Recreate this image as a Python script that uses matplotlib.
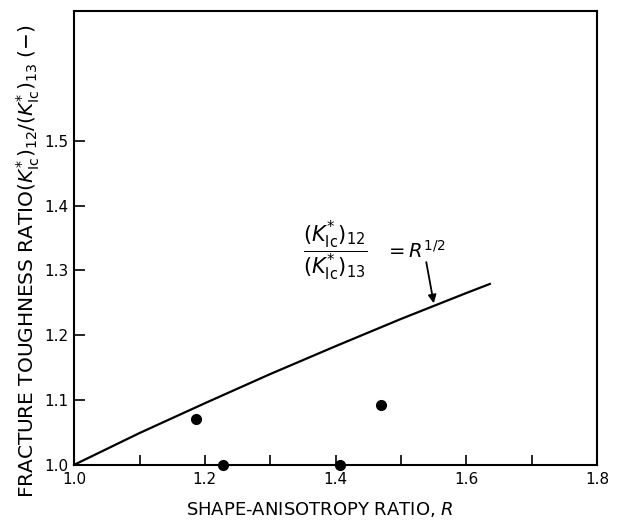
import matplotlib
matplotlib.use("Agg")
import matplotlib.pyplot as plt
from matplotlib.ticker import MultipleLocator, FixedLocator, FixedFormatter

plt.rcParams['font.family'] = ['DejaVu Sans']
plt.rcParams['mathtext.fontset'] = 'dejavusans'

# theoretical curve (K*_Ic)12/(K*_Ic)13 = R^(1/2)
curve_R = [1.0, 1.1, 1.2, 1.3, 1.4, 1.5, 1.6, 1.636]
curve_ratio = [1.0, 1.049, 1.095, 1.140, 1.183, 1.225, 1.265, 1.279]

# measured points
pts_R = [1.187, 1.227, 1.407, 1.469]
pts_ratio = [1.07, 1.0, 1.0, 1.092]

x_ticks = [1.0, 1.2, 1.4, 1.6, 1.8]
x_ticklabels = ["1.0", "1.2", "1.4", "1.6", "1.8"]
y_ticks = [1.0, 1.1, 1.2, 1.3, 1.4, 1.5]
y_ticklabels = ["1.0", "1.1", "1.2", "1.3", "1.4", "1.5"]

fig = plt.figure(figsize=(6.18, 5.27), dpi=100)
ax = fig.add_axes([0.120, 0.118, 0.846, 0.861])

ax.plot(curve_R, curve_ratio, color='black', lw=1.6, clip_on=False)
ax.plot(pts_R, pts_ratio, 'o', color='black', ms=7, clip_on=False, zorder=5)

ax.set_xlim(1.0, 1.8)
ax.set_ylim(1.0, 1.70)

ax.xaxis.set_major_locator(FixedLocator(x_ticks))
ax.xaxis.set_major_formatter(FixedFormatter(x_ticklabels))
ax.xaxis.set_minor_locator(MultipleLocator(0.1))
ax.yaxis.set_major_locator(FixedLocator(y_ticks))
ax.yaxis.set_major_formatter(FixedFormatter(y_ticklabels))

ax.tick_params(axis='both', which='both', direction='in', width=1.2, labelsize=11)
ax.tick_params(axis='x', which='both', length=7, pad=5)
ax.tick_params(axis='y', which='major', length=8, pad=4)
for s in ax.spines.values():
    s.set_linewidth(1.5)

ax.set_xlabel(r"SHAPE-ANISOTROPY RATIO, $\mathit{R}$", fontsize=13)
ax.xaxis.set_label_coords(0.47, -0.078)
ax.set_ylabel(r"FRACTURE TOUGHNESS RATIO$(K^{*}_{\mathrm{Ic}})_{12}/(K^{*}_{\mathrm{Ic}})_{13}$ (−)",
              fontsize=14.5)
ax.yaxis.set_label_coords(-0.062, 0.45)

ax.text(1.40, 1.33, r"$\dfrac{(K^{*}_{\mathrm{Ic}})_{12}}{(K^{*}_{\mathrm{Ic}})_{13}}$",
        fontsize=15, ha='center', va='center')
ax.text(1.475, 1.33, r"$= R^{1/2}$", fontsize=14, ha='left', va='center')

ax.annotate("", xy=(1.551, 1.245), xytext=(1.538, 1.317),
            arrowprops=dict(arrowstyle='-|>', color='black', lw=1.3,
                            mutation_scale=12))

fig.savefig("out.png", dpi=100)
